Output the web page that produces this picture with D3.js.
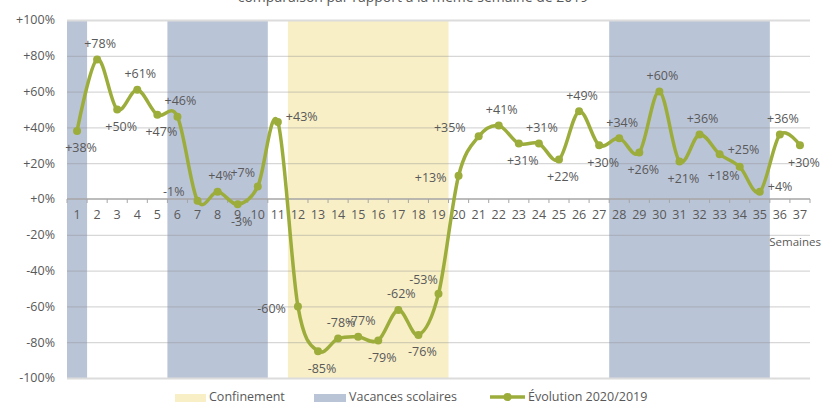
<!DOCTYPE html>
<html>
<head>
<meta charset="utf-8">
<script src="https://cdn.jsdelivr.net/npm/d3@7"></script>
<style>
  html, body { margin: 0; padding: 0; background: #fff; }
  svg { display: block; font-family: "Open Sans", Lato, sans-serif; }
</style>
</head>
<body>
<svg id="chart" width="822" height="403"></svg>
<script>
const title = "comparaison par rapport à la même semaine de 2019";
const weeks = ["1","2","3","4","5","6","7","8","9","10","11","12","13","14","15","16","17","18","19","20","21","22","23","24","25","26","27","28","29","30","31","32","33","34","35","36","37"];
const evolution = [38, 78, 50, 61, 47, 46, -1, 4, -3, 7, 43, -60, -85, -78, -77, -79, -62, -76, -53, 13, 35, 41, 31, 31, 22, 49, 30, 34, 26, 60, 21, 36, 25, 18, 4, 36, 30];
const labelPlacement = ["b","a","b","a","b","a","lu","a","b","al","r","l","b","a","a","b","a","b","al","l","lu","a","b","a","b","a","b","a","b","a","b","a","r","bl","r","a","b"];
const vacancesPeriods = [["1","1"], ["6","10"], ["28","35"]];
const confinementPeriods = [["12","19"]];
const yTicks = [-100, -80, -60, -40, -20, 0, 20, 40, 60, 80, 100];
const xAxisTitle = "Semaines";
const legendItems = ["Confinement", "Vacances scolaires", "Évolution 2020/2019"];

const colors = { vac: "#bac4d7", conf: "#f8efc7", line: "#9cad3c", text: "#595959", grid: "#d9d9d9", axis: "#a6a6a6" };
const fs = 12.5;

const svg = d3.select("#chart");
const x = d3.scaleBand().domain(weeks).range([67, 810]);
const y = d3.scaleLinear().domain([-100, 100]).range([378, 20]);
const cx = w => x(w) + x.bandwidth() / 2;

// title (clipped at top)
svg.append("text").attr("x", 413).attr("y", 2).attr("text-anchor", "middle")
  .attr("font-size", 14).attr("fill", colors.text).text(title);

// shaded periods
const shade = (periods, color) => svg.append("g").selectAll("rect").data(periods).join("rect")
  .attr("x", d => x(d[0])).attr("width", d => x(d[1]) + x.bandwidth() - x(d[0]))
  .attr("y", y(100)).attr("height", y(-100) - y(100)).attr("fill", color);
shade(confinementPeriods, colors.conf);
shade(vacancesPeriods, colors.vac);

// gridlines
svg.append("g").selectAll("line").data(yTicks.filter(v => v !== 0)).join("line")
  .attr("x1", 67).attr("x2", 810).attr("y1", d => y(d) + 0.5).attr("y2", d => y(d) + 0.5)
  .attr("stroke", d => (d === 100 || d === -100) ? "#dcdcdc" : "rgba(140,140,140,0.35)")
  .attr("stroke-width", d => (d === 100 || d === -100) ? 2 : 1.2);

// y axis labels
svg.append("g").selectAll("text").data(yTicks).join("text")
  .attr("x", 55).attr("y", d => y(d)).attr("dy", "0.35em").attr("text-anchor", "end")
  .attr("font-size", fs).attr("fill", colors.text)
  .text(d => (d >= 0 ? "+" : "") + d + "%");

// x axis at zero
const xAxis = svg.append("g").attr("transform", `translate(0,${y(0)})`);
xAxis.append("line").attr("x1", 67).attr("x2", 810).attr("stroke", colors.axis).attr("stroke-width", 1.5);
xAxis.selectAll("line.tick").data(weeks.concat(["end"])).join("line").attr("class", "tick")
  .attr("x1", (d, i) => i < weeks.length ? x(d) : 810).attr("x2", (d, i) => i < weeks.length ? x(d) : 810)
  .attr("y1", 0).attr("y2", 4).attr("stroke", colors.axis).attr("stroke-width", 1);
xAxis.selectAll("text").data(weeks).join("text")
  .attr("x", d => cx(d)).attr("y", 16).attr("dy", "0.35em").attr("text-anchor", "middle")
  .attr("font-size", fs).attr("fill", colors.text).text(d => d);
svg.append("text").attr("x", 821).attr("y", 242).attr("dy", "0.35em").attr("text-anchor", "end")
  .attr("font-size", 11.5).attr("fill", colors.text).text(xAxisTitle);

// line
const pts = weeks.map((w, i) => ({ w, v: evolution[i], p: labelPlacement[i] }));
const line = d3.line().x(d => cx(d.w)).y(d => y(d.v)).curve(d3.curveCardinal.tension(0));
svg.append("path").datum(pts).attr("d", line).attr("fill", "none")
  .attr("stroke", colors.line).attr("stroke-width", 3.5).attr("stroke-linejoin", "round");
svg.append("g").selectAll("circle").data(pts).join("circle")
  .attr("cx", d => cx(d.w)).attr("cy", d => y(d.v)).attr("r", 4).attr("fill", colors.line);

// data labels
const placeOffsets = {
  a: { dx: 3, dy: -16, anchor: "middle" },
  b: { dx: 4, dy: 17, anchor: "middle" },
  l: { dx: -12, dy: 2, anchor: "end" },
  lu: { dx: -13, dy: -9, anchor: "end" },
  r: { dx: 8, dy: -5, anchor: "start" },
  al: { dx: -15, dy: -14, anchor: "middle" },
  bl: { dx: -16, dy: 9, anchor: "middle" }
};
svg.append("g").selectAll("text").data(pts).join("text")
  .attr("x", d => cx(d.w) + placeOffsets[d.p].dx)
  .attr("y", d => y(d.v) + placeOffsets[d.p].dy)
  .attr("dy", "0.35em").attr("text-anchor", d => placeOffsets[d.p].anchor)
  .attr("font-size", fs).attr("fill", colors.text)
  .text(d => (d.v >= 0 ? "+" : "") + d.v + "%");

// legend
const lg = svg.append("g");
const ly = 397;
lg.append("rect").attr("x", 175).attr("y", ly - 3).attr("width", 31).attr("height", 8).attr("fill", colors.conf);
lg.append("text").attr("x", 209).attr("y", ly).attr("dy", "0.35em").attr("font-size", fs).attr("fill", colors.text).text(legendItems[0]);
lg.append("rect").attr("x", 314).attr("y", ly - 3).attr("width", 32).attr("height", 8).attr("fill", colors.vac);
lg.append("text").attr("x", 349).attr("y", ly).attr("dy", "0.35em").attr("font-size", fs).attr("fill", colors.text).text(legendItems[1]);
lg.append("line").attr("x1", 490).attr("x2", 525).attr("y1", ly).attr("y2", ly).attr("stroke", colors.line).attr("stroke-width", 3.5);
lg.append("circle").attr("cx", 507.5).attr("cy", ly).attr("r", 4).attr("fill", colors.line);
lg.append("text").attr("x", 528).attr("y", ly).attr("dy", "0.35em").attr("font-size", fs).attr("fill", colors.text).text(legendItems[2]);
</script>
</body>
</html>
